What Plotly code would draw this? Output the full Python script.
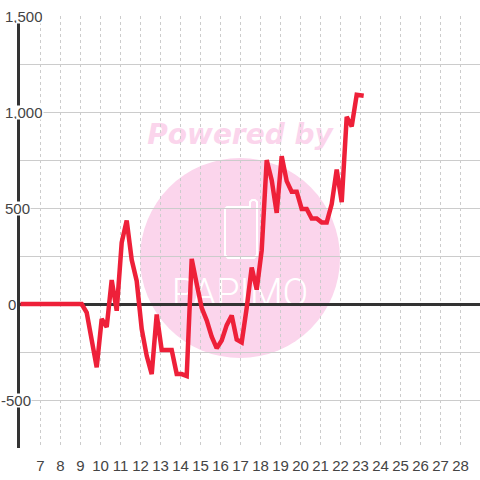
import plotly.graph_objects as go

hours = [6.0, 6.25, 6.5, 6.75, 7.0, 7.25, 7.5, 7.75, 8.0, 8.25, 8.5, 8.75, 9.06,
         9.31, 9.56, 9.81, 10.06, 10.31, 10.56, 10.81, 11.06, 11.31, 11.56, 11.81,
         12.06, 12.31, 12.56, 12.81, 13.06, 13.31, 13.56, 13.81, 14.06, 14.31, 14.56,
         14.81, 15.06, 15.31, 15.56, 15.81, 16.06, 16.31, 16.56, 16.81, 17.06, 17.31,
         17.56, 17.81, 18.06, 18.31, 18.56, 18.81, 19.06, 19.31, 19.56, 19.81, 20.06,
         20.31, 20.56, 20.81, 21.06, 21.31, 21.56, 21.81, 22.06, 22.31, 22.56, 22.81, 23.06, 23.16]
values = [0, 0, 0, 0, 0, 0, 0, 0, 0, 0, 0, 0, 0,
          -45, -190, -330, -78, -120, 125, -35, 320, 435, 230, 120,
          -130, -270, -365, -55, -240, -240, -240, -365, -365, -375, 235,
          105, -20, -85, -170, -230, -190, -110, -60, -185, -200, -20,
          190, 75, 280, 750, 645, 475, 770, 640, 585, 585, 495,
          495, 445, 445, 425, 425, 520, 700, 530, 975, 925, 1090, 1090, 1085]
x_ticks = list(range(7, 29))
y_labels = ["1,500", "1,000", "500", "0", "-500"]
y_label_values = [1500, 1000, 500, 0, -500]
y_label_right = [44, 44, 31, 17, 32]

W, H = 480, 480
L, R, T, B = 20, 0, 16, 32


def px(x):
    return (x - L) / (W - L - R)


def py(y):
    return (H - B - y) / (H - T - B)


PINK = "#fbd5ec"
LOGO = "#ffffff"

fig = go.Figure(go.Scatter(x=hours, y=values, mode="lines",
                           line=dict(color="#ee2039", width=4.5, shape="linear"),
                           cliponaxis=False, hoverinfo="skip"))

shapes = [
    dict(type="circle", xref="paper", yref="paper", layer="below",
         x0=px(140), x1=px(340), y0=py(358), y1=py(158),
         fillcolor=PINK, line=dict(width=0)),
    dict(type="rect", xref="paper", yref="paper", layer="below",
         x0=px(138), x1=px(342), y0=py(148), y1=py(116),
         fillcolor="rgba(0,0,0,0)", line=dict(width=0),
         label=dict(text="Powered by", textposition="middle center",
                    font=dict(family="DejaVu Sans", size=28, color=PINK, weight="bold", style="italic"))),
    dict(type="rect", xref="paper", yref="paper", layer="below",
         x0=px(170), x1=px(310), y0=py(308), y1=py(272),
         fillcolor="rgba(0,0,0,0)", line=dict(width=0),
         label=dict(text="PAPIMO", textposition="middle center",
                    font=dict(family="Roboto", size=38, color=LOGO, weight=300))),
    dict(type="path", xref="paper", yref="paper", layer="below",
         path=(f"M {px(227)} {py(207)} L {px(250)} {py(207)} L {px(250)} {py(202)} "
               f"L {px(252)} {py(200)} L {px(255)} {py(200)} L {px(257)} {py(202)} "
               f"L {px(257)} {py(255)} L {px(254)} {py(258)} L {px(228)} {py(258)} "
               f"L {px(225)} {py(255)} L {px(225)} {py(209)} Z"),
         fillcolor="rgba(0,0,0,0)", line=dict(color=LOGO, width=2)),
]

annotations = [
    dict(xref="paper", yref="y", x=px(right), y=v, text=t, showarrow=False,
         xanchor="right", yanchor="middle", bgcolor="white", borderpad=0,
         height=13, font=dict(family="Liberation Sans", size=15, color="#444"))
    for t, v, right in zip(y_labels, y_label_values, y_label_right)
]

fig.update_layout(
    width=W, height=H, autosize=False,
    margin=dict(l=L, r=R, t=T, b=B, pad=0),
    paper_bgcolor="white", plot_bgcolor="white",
    showlegend=False, shapes=shapes, annotations=annotations,
    xaxis=dict(range=[5.975, 28.975], tickmode="array", tickvals=x_ticks,
               ticktext=[str(v) for v in x_ticks], showgrid=True,
               gridcolor="#cccccc", griddash="3px,3px", gridwidth=1,
               zeroline=False, showline=False, ticks="outside", ticklen=4,
               tickcolor="rgba(0,0,0,0)",
               tickfont=dict(family="Liberation Sans", size=15, color="#444")),
    yaxis=dict(range=[-750, 1500], tickmode="linear", tick0=0, dtick=250,
               showticklabels=False, showgrid=True, gridcolor="#cccccc", gridwidth=1,
               zeroline=True, zerolinecolor="#333333", zerolinewidth=3,
               showline=True, linecolor="#333333", linewidth=3, ticks=""),
)

fig.write_html("out.html", config=dict(displayModeBar=False),
               post_script="document.body.style.margin='0';document.body.style.overflow='hidden';")
